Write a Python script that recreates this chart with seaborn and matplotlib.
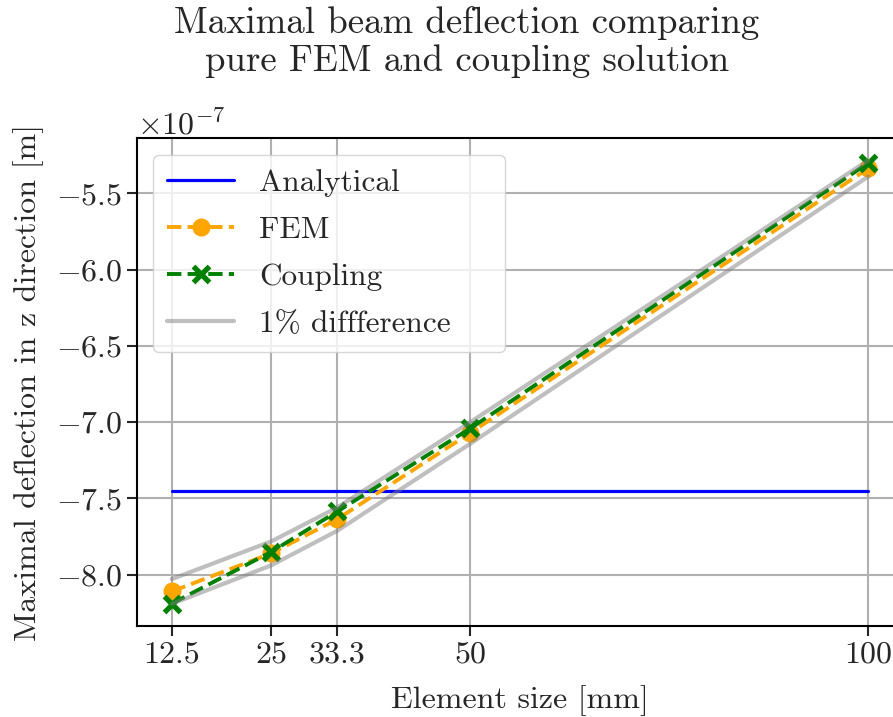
import numpy as np
import pandas as pd
import matplotlib
matplotlib.use("Agg")
import matplotlib.pyplot as plt
import seaborn as sns

# ---- data ----
element_size = [12.5, 25, 33.3, 50, 100]
tick_labels = ["12.5", "25", "33.3", "50", "100"]
analytical = [-7.45e-7, -7.45e-7]
analytical_x = [12.5, 100]
fem = [-8.11e-7, -7.86e-7, -7.635e-7, -7.07e-7, -5.335e-7]
coupling = [-8.19e-7, -7.85e-7, -7.585e-7, -7.04e-7, -5.30e-7]
upper_1pct = [v * 0.99 for v in fem]
lower_1pct = [v * 1.01 for v in fem]

sns.set_style("ticks")
plt.rcParams.update({
    "font.family": "serif",
    "font.serif": ["cmr10"],
    "mathtext.fontset": "cm",
    "axes.formatter.use_mathtext": True,
    "axes.unicode_minus": True,
    "font.size": 23,
})

fig = plt.figure(figsize=(8.93, 7.17), dpi=100)
ax = fig.add_axes([0.1534, 0.1269, 0.858, 0.6806])

sns.lineplot(x=analytical_x, y=analytical, ax=ax, color="blue", lw=2.3,
             label="Analytical", sort=False, estimator=None)
sns.lineplot(x=element_size, y=fem, ax=ax, color="orange", lw=2.8, ls="--",
             marker="o", markersize=13, markeredgewidth=0, label="FEM",
             sort=False, estimator=None)
sns.lineplot(x=element_size, y=coupling, ax=ax, color="green", lw=2.8, ls="--",
             marker="x", markersize=12, markeredgewidth=3.8,
             markeredgecolor="green", label="Coupling",
             sort=False, estimator=None)
sns.lineplot(x=element_size, y=upper_1pct, ax=ax, color="grey", alpha=0.5, lw=3,
             label="1% diffference", sort=False, estimator=None)
sns.lineplot(x=element_size, y=lower_1pct, ax=ax, color="grey", alpha=0.5, lw=3,
             sort=False, estimator=None)

ax.set_xticks(element_size)
ax.set_xticklabels(tick_labels)
ax.grid(True, color="#b0b0b0", lw=1.5)
ax.tick_params(direction="out", length=7, width=1.5, labelsize=23)
for s in ax.spines.values():
    s.set_linewidth(1.5)
    s.set_color("black")
sns.despine(ax=ax, top=False, right=False)

ax.set_xlabel("Element size [mm]", fontsize=23, labelpad=12)
ax.set_ylabel("Maximal deflection in z direction [m]", fontsize=23, labelpad=9)
fig.text(467 / 893, 1 - 6 / 717,
         "Maximal beam deflection comparing\npure FEM and coupling solution",
         fontsize=26.5, ha="center", va="top", linespacing=1.15)
ax.yaxis.get_offset_text().set_fontsize(23)

handles, labels = ax.get_legend_handles_labels()
leg = ax.legend(handles[:4], labels[:4], loc="upper left", fontsize=22.5,
                bbox_to_anchor=(0.0209, 0.0, 0.4595, 0.965), mode="expand",
                borderaxespad=0.0,
                frameon=True, fancybox=True, framealpha=0.8, edgecolor="#cccccc",
                handlelength=2.15, borderpad=0.45, labelspacing=0.61)

fig.savefig("out.png", dpi=100)
